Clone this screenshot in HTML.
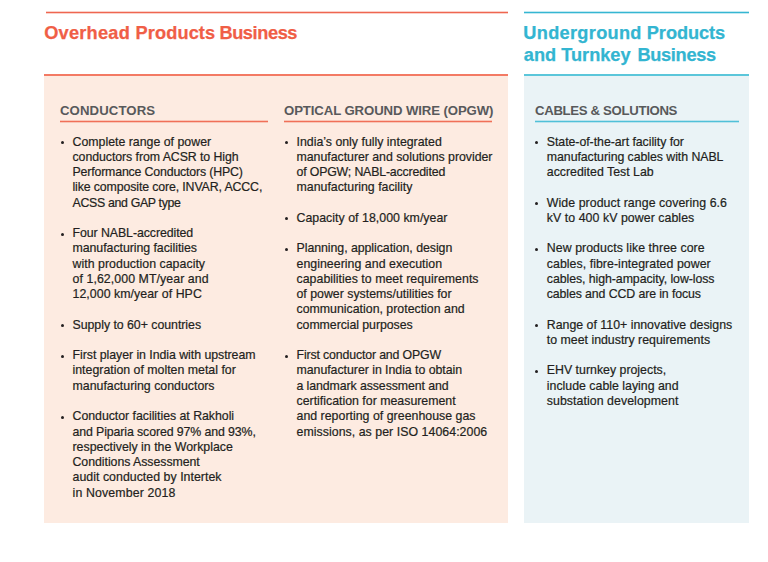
<!DOCTYPE html>
<html><head><meta charset="utf-8">
<style>
*{margin:0;padding:0;box-sizing:border-box}
html,body{width:768px;height:562px;background:#fff;overflow:hidden}
body{position:relative;font-family:"Liberation Sans",sans-serif}
.abs{position:absolute}
.oline{background:linear-gradient(to bottom,rgba(239,102,80,.3) 0 1px,#EF6650 1px 2px,rgba(239,102,80,.3) 2px 3px)}
.bline{background:linear-gradient(to bottom,rgba(53,182,210,.3) 0 1px,#35B6D2 1px 2px,rgba(53,182,210,.3) 2px 3px)}
.oul{background:linear-gradient(to bottom,rgba(240,112,88,.3) 0 1px,#F07058 1px 2px,rgba(240,112,88,.3) 2px 3px)}
.bul{background:linear-gradient(to bottom,rgba(80,192,216,.3) 0 1px,#50C0D8 1px 2px,rgba(80,192,216,.3) 2px 3px)}
.h1{position:absolute;font-weight:bold;font-size:18.2px;line-height:22px;white-space:nowrap;-webkit-text-stroke:0.25px currentColor}
.ho{color:#F05E46}
.hb{color:#33B5D1}
.box{position:absolute;top:74px;height:449px}
.pink{left:44px;width:464.4px;background:#FDEBE1;border-top:2px solid #F37A64}
.blue{left:524px;width:224.5px;background:#EAF3F6;border-top:2px solid #5BC6DA}
.sh{position:absolute;font-weight:bold;font-size:13.2px;color:#58595B;white-space:nowrap;line-height:16px}
.ul{position:absolute;height:3px;top:120px}
.col{position:absolute;top:134.5px;font-size:12.35px;line-height:15.27px;color:#231F20;white-space:nowrap;-webkit-text-stroke:0.2px #231F20}
.col p{position:relative;margin-bottom:15.27px}
.col p::before{content:"";position:absolute;left:-11.4px;top:6.5px;width:3px;height:3px;border-radius:50%;background:#231F20}
</style></head><body>
<div class="abs oline" style="left:46px;top:11px;width:462px;height:3px"></div>
<div class="abs bline" style="left:524px;top:11px;width:225px;height:3px"></div>
<div class="h1 ho" style="left:44.2px;top:22px;letter-spacing:0.24px">Overhead</div>
<div class="h1 ho" style="left:135.6px;top:22px;letter-spacing:0.1px">Products</div>
<div class="h1 ho" style="left:219.4px;top:22px;letter-spacing:-0.4px">Business</div>
<div class="h1 hb" style="left:523.3px;top:22px;letter-spacing:0.3px">Underground</div>
<div class="h1 hb" style="left:646.8px;top:22px;letter-spacing:-0.06px">Products</div>
<div class="h1 hb" style="left:523.8px;top:44px">and</div>
<div class="h1 hb" style="left:561.2px;top:44px">Turnkey</div>
<div class="h1 hb" style="left:637.4px;top:44px;letter-spacing:-0.3px">Business</div>

<div class="box pink"></div>
<div class="box blue"></div>

<div class="sh" style="left:60px;top:103px;letter-spacing:0.09px">CONDUCTORS</div>
<div class="ul oul" style="left:60px;width:208px"></div>
<div class="sh" style="left:284px;top:103px;letter-spacing:-0.11px">OPTICAL GROUND WIRE (OPGW)</div>
<div class="ul oul" style="left:284px;width:208px"></div>
<div class="sh" style="left:535px;top:103px;letter-spacing:-0.33px">CABLES &amp; SOLUTIONS</div>
<div class="ul bul" style="left:534.6px;width:204px"></div>

<div class="col" style="left:72.5px">
<p><span>Complete range of power</span><br><span style="letter-spacing:-0.070px">conductors from ACSR to High</span><br><span style="letter-spacing:-0.170px">Performance Conductors (HPC)</span><br><span style="letter-spacing:-0.128px">like composite core, INVAR, ACCC,</span><br><span style="letter-spacing:-0.325px">ACSS and GAP type</span></p>
<p><span style="letter-spacing:-0.074px">Four NABL-accredited</span><br><span style="letter-spacing:-0.048px">manufacturing facilities</span><br><span style="letter-spacing:0.035px">with production capacity</span><br><span style="letter-spacing:0.073px">of 1,62,000 MT/year and</span><br><span style="letter-spacing:0.050px">12,000 km/year of HPC</span></p>
<p><span style="letter-spacing:-0.036px">Supply to 60+ countries</span></p>
<p><span style="letter-spacing:-0.044px">First player in India with upstream</span><br><span>integration of molten metal for</span><br><span>manufacturing conductors</span></p>
<p><span style="letter-spacing:-0.033px">Conductor facilities at Rakholi</span><br><span style="letter-spacing:-0.110px">and Piparia scored 97% and 93%,</span><br><span>respectively in the Workplace</span><br><span style="letter-spacing:-0.050px">Conditions Assessment</span><br><span style="letter-spacing:0.031px">audit conducted by Intertek</span><br><span style="letter-spacing:0.140px">in November 2018</span></p>
</div>
<div class="col" style="left:296.5px">
<p><span>India’s only fully integrated</span><br><span style="letter-spacing:-0.029px">manufacturer and solutions provider</span><br><span style="letter-spacing:-0.174px">of OPGW; NABL-accredited</span><br><span>manufacturing facility</span></p>
<p><span style="letter-spacing:0.028px">Capacity of 18,000 km/year</span></p>
<p><span style="letter-spacing:-0.050px">Planning, application, design</span><br><span style="letter-spacing:0.033px">engineering and execution</span><br><span style="letter-spacing:0.028px">capabilities to meet requirements</span><br><span>of power systems/utilities for</span><br><span>communication, protection and</span><br><span style="letter-spacing:-0.067px">commercial purposes</span></p>
<p><span style="letter-spacing:-0.152px">First conductor and OPGW</span><br><span style="letter-spacing:-0.037px">manufacturer in India to obtain</span><br><span style="letter-spacing:-0.096px">a landmark assessment and</span><br><span>certification for measurement</span><br><span style="letter-spacing:0.020px">and reporting of greenhouse gas</span><br><span style="letter-spacing:0.042px">emissions, as per ISO 14064:2006</span></p>
</div>
<div class="col" style="left:546.8px">
<p><span style="letter-spacing:-0.050px">State-of-the-art facility for</span><br><span style="letter-spacing:-0.059px">manufacturing cables with NABL</span><br><span>accredited Test Lab</span></p>
<p><span style="letter-spacing:0.057px">Wide product range covering 6.6</span><br><span style="letter-spacing:0.054px">kV to 400 kV power cables</span></p>
<p><span style="letter-spacing:0.052px">New products like three core</span><br><span style="letter-spacing:0.045px">cables, fibre-integrated power</span><br><span style="letter-spacing:-0.073px">cables, high-ampacity, low-loss</span><br><span style="letter-spacing:-0.115px">cables and CCD are in focus</span></p>
<p><span>Range of 110+ innovative designs</span><br><span>to meet industry requirements</span></p>
<p><span>EHV turnkey projects,</span><br><span>include cable laying and</span><br><span style="letter-spacing:0.057px">substation development</span></p>
</div>
</body></html>
